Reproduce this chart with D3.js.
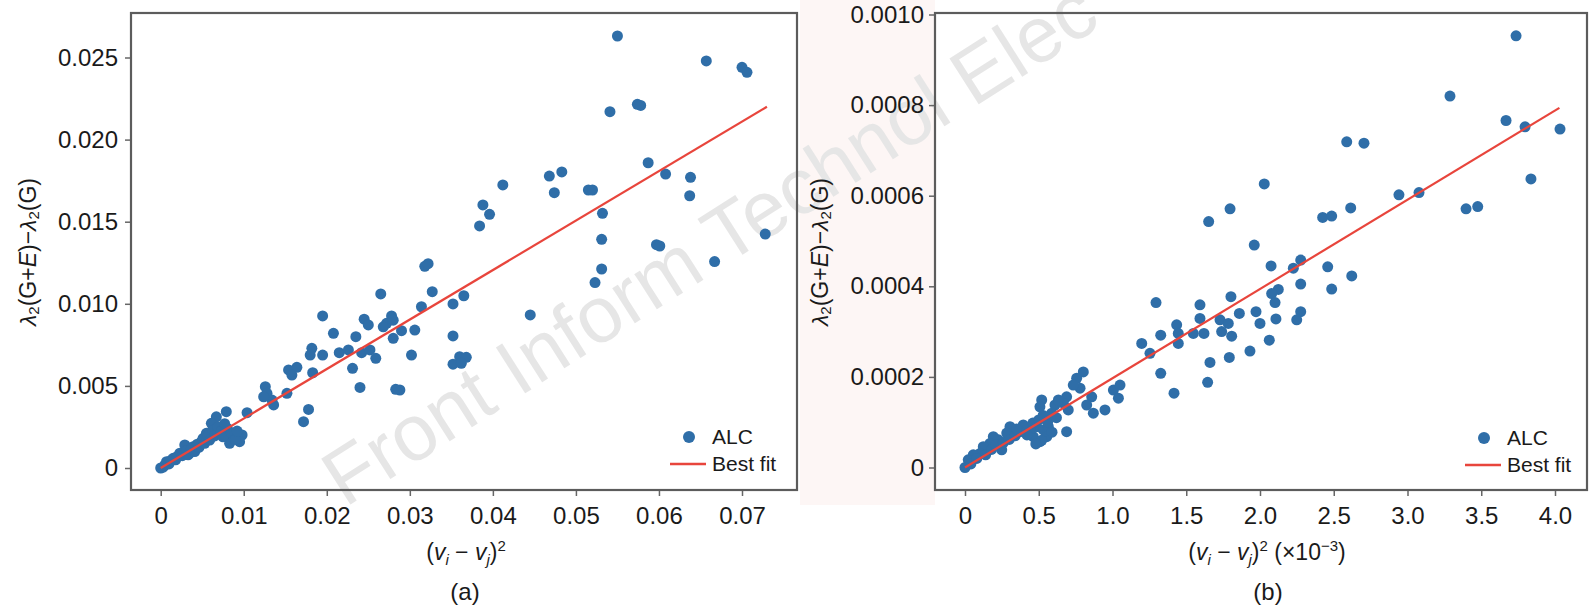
<!DOCTYPE html>
<html>
<head>
<meta charset="utf-8">
<script src="https://cdn.jsdelivr.net/npm/d3@7"></script>
<style>
  body { margin: 0; background: #fff; }
  svg text { font-family: "Liberation Sans", Arial, sans-serif; }
</style>
</head>
<body>
<div id="chart"></div>
<script>
// ---- data: panel (a) ----
var aX = [0.0550,0.0657,0.0700,0.0706,0.0541,0.0574,0.0578,0.0587,0.0608,0.0638,0.0637,0.0468,0.0483,0.0474,0.0515,0.0520,
  0.0412,0.0388,0.0396,0.0384,0.0532,0.0728,0.0531,0.0531,0.0523,0.0597,0.0601,0.0667,0.0318,0.0322,0.0327,0.0314,
  0.0352,0.0365,0.0445,0.0290,0.0306,0.0352,0.0302,0.0352,0.0360,0.0368,0.0362,0.0288,0.0265,0.0195,0.0245,0.0250,
  0.0278,0.0272,0.0268,0.0280,0.0208,0.0235,0.0280,0.0182,0.0180,0.0195,0.0215,0.0226,0.0242,0.0252,0.0259,0.0231,
  0.0240,0.0283,0.0154,0.0164,0.0158,0.0183,0.0126,0.0128,0.0134,0.0136,0.0152,0.0124,0.0178,0.0172,0.0104,0.0079,
  0.0067,0.0098,0.0095,0.0087,0.0080,0.0083,0.0071,0.0061,0.0055,0.0049,0.0039,0.0029,0.0035,0.0023,0.0015,0.0007,
  0.0000,0.0003,0.0005,0.0010,0.0012,0.0018,0.0020,0.0026,0.0031,0.0033,0.0037,0.0041,0.0044,0.0046,0.0051,0.0053,
  0.0057,0.0059,0.0063,0.0065,0.0069,0.0073,0.0075,0.0077,0.0085,0.0090,0.0092];
var aY = [0.02631,0.02479,0.02440,0.02410,0.02170,0.02215,0.02208,0.01859,0.01790,0.01770,0.01658,0.01778,0.01803,0.01677,0.01693,0.01693,
  0.01724,0.01602,0.01545,0.01474,0.01551,0.01425,0.01393,0.01212,0.01129,0.01360,0.01352,0.01257,0.01228,0.01244,0.01074,0.00982,
  0.00999,0.01049,0.00932,0.00836,0.00840,0.00804,0.00688,0.00632,0.00678,0.00674,0.00638,0.00475,0.01060,0.00926,0.00906,0.00871,
  0.00926,0.00881,0.00860,0.00900,0.00820,0.00800,0.00790,0.00729,0.00688,0.00688,0.00702,0.00719,0.00702,0.00719,0.00668,0.00607,
  0.00491,0.00479,0.00597,0.00613,0.00566,0.00580,0.00495,0.00455,0.00414,0.00384,0.00455,0.00434,0.00357,0.00282,0.00337,0.00343,
  0.00312,0.00201,0.00160,0.00191,0.00242,0.00150,0.00211,0.00272,0.00211,0.00160,0.00130,0.00140,0.00090,0.00090,0.00059,0.00038,
  0.00000,0.00005,0.00018,0.00025,0.00045,0.00050,0.00070,0.00075,0.00105,0.00080,0.00118,0.00100,0.00145,0.00125,0.00180,0.00150,
  0.00195,0.00170,0.00230,0.00195,0.00250,0.00225,0.00190,0.00270,0.00215,0.00175,0.00225];
var fitAX = [0, 0.073];
var fitAY = [0, 0.0220];
var aXTicks = [0, 0.01, 0.02, 0.03, 0.04, 0.05, 0.06, 0.07];
var aYTicks = [0, 0.005, 0.010, 0.015, 0.020, 0.025];

// ---- data: panel (b) ----  (x in units of 1e-3)
var bX = [3.736,3.288,3.668,3.797,4.034,3.837,2.942,3.078,3.397,3.476,2.588,2.705,2.029,1.797,2.615,1.652,
  1.961,2.425,2.486,2.075,2.226,2.276,2.459,2.622,2.486,2.276,2.124,2.079,2.102,1.803,1.295,1.593,
  1.593,1.729,1.785,1.860,1.973,2.000,2.108,2.276,2.249,1.435,1.446,1.327,1.548,1.620,1.740,1.808,
  1.446,2.063,1.932,1.792,1.661,1.254,1.327,1.645,1.417,1.198,0.802,0.757,0.780,0.734,0.859,0.825,
  1.006,1.051,1.040,0.949,0.870,0.689,0.689,0.667,0.610,0.520,0.508,0.588,0.700,0.633,0.486,0.531,
  0.554,0.508,0.463,0.441,0.565,0.395,0.373,0.305,0.283,0.226,0.192,0.169,0.249,0.124,0.102,0.056,
  0.022,0.000,0.040,0.080,0.140,0.180,0.210,0.260,0.300,0.340,0.350,0.420,0.460,0.500,0.530,0.560,
  0.590,0.520,0.480,0.620];
var bY = [0.000953,0.000820,0.000766,0.000752,0.000747,0.000637,0.000602,0.000607,0.000571,0.000576,0.000719,0.000716,0.000626,0.000571,0.000573,0.000543,
  0.000491,0.000552,0.000555,0.000445,0.000440,0.000458,0.000443,0.000423,0.000394,0.000405,0.000393,0.000384,0.000364,0.000377,0.000364,0.000359,
  0.000329,0.000326,0.000318,0.000340,0.000344,0.000318,0.000328,0.000344,0.000326,0.000315,0.000296,0.000292,0.000296,0.000296,0.000300,0.000290,
  0.000274,0.000281,0.000257,0.000243,0.000232,0.000252,0.000208,0.000188,0.000164,0.000274,0.000211,0.000197,0.000175,0.000182,0.000156,0.000138,
  0.000171,0.000182,0.000153,0.000127,0.000120,0.000079,0.000156,0.000142,0.000138,0.000149,0.000134,0.000120,0.000127,0.000149,0.000090,0.000083,
  0.000068,0.000057,0.000068,0.000083,0.000090,0.000094,0.000079,0.000090,0.000076,0.000061,0.000068,0.000053,0.000039,0.000046,0.000031,0.000028,
  0.000017,0.000000,0.000008,0.000020,0.000028,0.000040,0.000050,0.000055,0.000062,0.000070,0.000085,0.000072,0.000098,0.000105,0.000115,0.000100,
  0.000078,0.000060,0.000052,0.000110];
var fitBX = [0, 4.03];
var fitBY = [0, 0.000794];
var bXTicks = [0, 0.5, 1.0, 1.5, 2.0, 2.5, 3.0, 3.5, 4.0];
var bYTicks = [0, 0.0002, 0.0004, 0.0006, 0.0008, 0.0010];

var legendLabels = ["ALC", "Best fit"];

var W = 1589, H = 606;
var dotColor = "#2f6ea8", fitColor = "#e8453c";

var svg = d3.select("#chart").append("svg")
    .attr("width", W)
    .attr("height", H);

// faint tinted strip between the panels (scan artifact)
svg.append("rect")
    .attr("x", 800).attr("y", 0).attr("width", 135).attr("height", 505)
    .attr("fill", "#fdf6f5");

// watermark behind the marks
svg.append("text")
    .attr("transform", "translate(345,508) rotate(-32.5)")
    .attr("font-size", 79)
    .attr("fill", "#e6e6e6")
    .text("Front Inform Technol Elec");

function drawPanel(cfg) {
    var box = cfg.box;
    var x = d3.scaleLinear().domain(cfg.xDom).range(cfg.xRange);
    var y = d3.scaleLinear().domain(cfg.yDom).range(cfg.yRange);

    var g = svg.append("g");

    var xAxis = g.append("g")
        .attr("transform", "translate(0," + box.bottom + ")")
        .call(d3.axisBottom(x).tickValues(cfg.xTicks).tickFormat(cfg.xFmt)
            .tickSize(6).tickSizeOuter(0).tickPadding(11));
    var yAxis = g.append("g")
        .attr("transform", "translate(" + box.left + ",0)")
        .call(d3.axisLeft(y).tickValues(cfg.yTicks).tickFormat(cfg.yFmt)
            .tickSize(6).tickSizeOuter(0).tickPadding(cfg.yPad));
    [xAxis, yAxis].forEach(function (a) {
        a.select(".domain").remove();
        a.selectAll(".tick line").attr("stroke", "#666").attr("stroke-width", 1.5);
        a.selectAll(".tick text")
            .attr("fill", "#1a1a1a")
            .attr("font-size", 24)
            .attr("font-family", "Liberation Sans, Arial, sans-serif");
    });

    // dots
    var pts = cfg.xs.map(function (v, i) { return [v, cfg.ys[i]]; });
    g.append("g")
        .selectAll("circle")
        .data(pts)
        .enter()
        .append("circle")
        .attr("cx", function (d) { return x(d[0]); })
        .attr("cy", function (d) { return y(d[1]); })
        .attr("r", 5.5)
        .attr("fill", dotColor);

    // best fit
    var line = d3.line().x(function (d) { return x(d[0]); }).y(function (d) { return y(d[1]); });
    g.append("path")
        .datum(cfg.fitX.map(function (v, i) { return [v, cfg.fitY[i]]; }))
        .attr("d", line)
        .attr("fill", "none")
        .attr("stroke", fitColor)
        .attr("stroke-width", 2.2);

    // frame
    g.append("rect")
        .attr("x", box.left).attr("y", box.top)
        .attr("width", box.right - box.left)
        .attr("height", box.bottom - box.top)
        .attr("fill", "none")
        .attr("stroke", "#5c5c5c")
        .attr("stroke-width", 2.2);

    // legend
    var lg = g.append("g").attr("transform", "translate(" + cfg.legend[0] + "," + cfg.legend[1] + ")");
    lg.append("circle").attr("cx", 0).attr("cy", 0).attr("r", 6).attr("fill", dotColor);
    lg.append("line").attr("x1", -19).attr("x2", 17).attr("y1", 27).attr("y2", 27)
        .attr("stroke", fitColor).attr("stroke-width", 2.5);
    lg.selectAll("text.lab")
        .data(legendLabels)
        .enter()
        .append("text")
        .attr("class", "lab")
        .attr("x", 23)
        .attr("y", function (d, i) { return i * 27; })
        .attr("dy", "0.35em")
        .attr("font-size", 21)
        .attr("fill", "#1a1a1a")
        .text(function (d) { return d; });

    // y title
    var yt = g.append("text")
        .attr("transform", "translate(" + cfg.yTitle[0] + "," + cfg.yTitle[1] + ") rotate(-90)")
        .attr("text-anchor", "middle")
        .attr("dominant-baseline", "central")
        .attr("font-size", 23)
        .attr("fill", "#1a1a1a");
    yt.append("tspan").attr("font-style", "italic").text("λ");
    yt.append("tspan").attr("font-size", 15).attr("dy", 5).text("2");
    yt.append("tspan").attr("dy", -5).text("(G+");
    yt.append("tspan").attr("font-style", "italic").text("E");
    yt.append("tspan").text(")−");
    yt.append("tspan").attr("font-style", "italic").text("λ");
    yt.append("tspan").attr("font-size", 15).attr("dy", 5).text("2");
    yt.append("tspan").attr("dy", -5).text("(G)");

    // x title
    var xt = g.append("text")
        .attr("x", cfg.xTitle[0]).attr("y", cfg.xTitle[1])
        .attr("text-anchor", "middle")
        .attr("font-size", 23)
        .attr("fill", "#1a1a1a");
    xt.append("tspan").text("(");
    xt.append("tspan").attr("font-style", "italic").text("v");
    xt.append("tspan").attr("font-style", "italic").attr("font-size", 15).attr("dy", 5).text("i");
    xt.append("tspan").attr("dy", -5).text(" − ");
    xt.append("tspan").attr("font-style", "italic").text("v");
    xt.append("tspan").attr("font-style", "italic").attr("font-size", 15).attr("dy", 5).text("j");
    xt.append("tspan").attr("dy", -5).text(")");
    xt.append("tspan").attr("font-size", 15).attr("dy", -9).text("2");
    if (cfg.xScaleNote) {
        xt.append("tspan").attr("dy", 9).text(" (×10");
        xt.append("tspan").attr("font-size", 15).attr("dy", -9).text("−3");
        xt.append("tspan").attr("dy", 9).text(")");
    }

    // panel tag
    g.append("text")
        .attr("x", cfg.tag[0]).attr("y", cfg.tag[1])
        .attr("text-anchor", "middle")
        .attr("font-size", 24)
        .attr("fill", "#1a1a1a")
        .text(cfg.tagText);
}

function fmtFixed(n) {
    return function (d) { return d === 0 ? "0" : d.toFixed(n); };
}

drawPanel({
    box: {left: 131, right: 797, top: 13, bottom: 490},
    xDom: [0, 0.07], xRange: [160.7, 742],
    yDom: [0, 0.025], yRange: [468, 57.5],
    xTicks: aXTicks, yTicks: aYTicks,
    xFmt: fmtFixed(2), yFmt: fmtFixed(3), yPad: 7,
    xs: aX, ys: aY, fitX: fitAX, fitY: fitAY,
    legend: [689, 437],
    yTitle: [28, 252], xTitle: [466, 560],
    tag: [465, 600], tagText: "(a)"
});

drawPanel({
    box: {left: 935, right: 1587, top: 13, bottom: 490},
    xDom: [0, 4], xRange: [965, 1555],
    yDom: [0, 0.001], yRange: [467.5, 14.5],
    xTicks: bXTicks, yTicks: bYTicks,
    xFmt: fmtFixed(1), yFmt: fmtFixed(4), yPad: 5,
    xs: bX, ys: bY, fitX: fitBX, fitY: fitBY,
    legend: [1484, 438],
    yTitle: [820, 252], xTitle: [1267, 560], xScaleNote: true,
    tag: [1268, 600], tagText: "(b)"
});
</script>
</body>
</html>
